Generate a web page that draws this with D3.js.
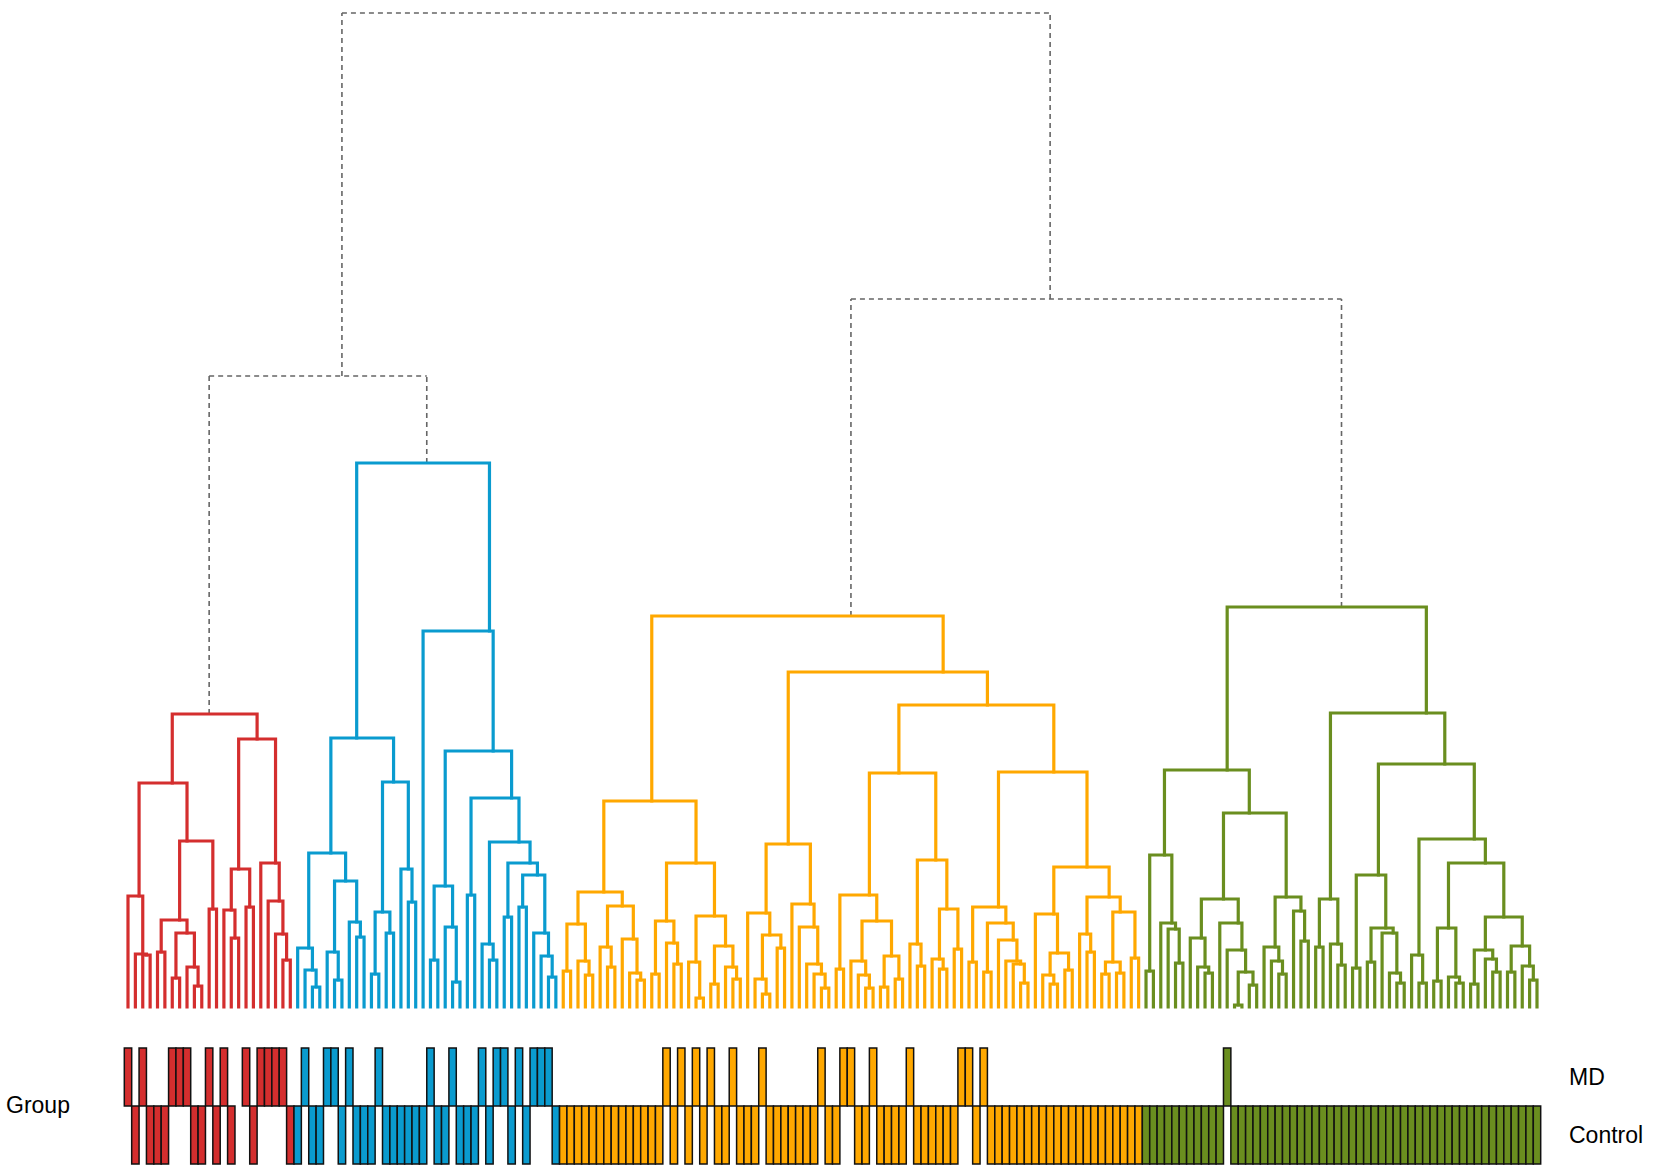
<!DOCTYPE html>
<meta charset="utf-8">
<style>
body { margin: 0; background: #fff; }
text { font-family: Arial, "Liberation Sans", sans-serif; }
</style>
<body>
<svg id="chart" width="1654" height="1174"></svg>
<script src="https://cdn.jsdelivr.net/npm/d3@7"></script>
<script>

// tree nodes: [mergeHeight, left, right], leaf = 0
var redTree = [293,
  [224,
    [111, 0, [53, 0, [52, 0, 0]]],
    [166, [87, [55, 0, 0], [74, [29, 0, 0], [40, 0, [21, 0, 0]]]], [98, 0, 0]]],
  [268,
    [138, [97, 0, [69, 0, 0]], [100, 0, 0]],
    [144, 0, [106, 0, [73, 0, [47, 0, 0]]]]]];

var blueTree = [544,
  [269,
    [154, [59, 0, [37, 0, [20, 0, 0]]], [126, [55, 0, [27, 0, 0]], [85, 0, [70, 0, 0]]]],
    [225, [95, [33, 0, 0], [74, 0, 0]], [138, 0, [105, 0, 0]]]],
  [376, 0,
    [256,
      [121, [47, 0, 0], [80, 0, [25, 0, 0]]],
      [209, [112, 0, 0],
        [165, [63, 0, [47, 0, 0]],
          [144, [90, 0, 0], [132, [100, 0, 0], [74, 0, [51, 0, [30, 0, 0]]]]]]]]]];

var orangeTree = [391,
  [206,
    [115,
      [83, [36, 0, 0], [46, 0, [32, 0, 0]]],
      [101, [60, 0, [40, 0, 0]], [68, 0, [34, 0, [27, 0, 0]]]]],
    [144,
      [86, [33, 0, 0], [64, 0, [43, 0, 0]]],
      [91, [45, 0, [9, 0, 0]], [61, [23, 0, 0], [40, 0, [28, 0, 0]]]]]],
  [335,
    [163,
      [94, 0, [72, [28, 0, [13, 0, 0]], [59, 0, 0]]],
      [103, 0, [80, 0, [43, 0, [33, 0, [19, 0, 0]]]]]],
    [302,
      [234,
        [112, [38, 0, 0], [86, [46, 0, [32, 0, [19, 0, 0]]], [51, [20, 0, 0], [28, 0, 0]]]],
        [147, [63, 0, [41, 0, 0]], [98, [48, 0, [38, 0, 0]], [58, 0, 0]]]],
      [235,
        [100, [45, 0, 0], [84, [35, 0, 0], [67, 0, [46, 0, [43, 0, [24, 0, 0]]]]]],
        [140,
          [93, 0, [54, [32, 0, [23, 0, 0]], [37, 0, 0]]],
          [110, [73, 0, [55, 0, 0]], [95, [45, [33, 0, 0], [34, 0, 0]], [49, 0, 0]]]]]]]];

var greenTree = [400,
  [237,
    [152, [36, 0, 0], [84, 0, [78, 0, [44, 0, 0]]]],
    [194,
      [108, [69, 0, [40, 0, [34, 0, 0]]], [84, 0, [57, 0, [35, [2, 0, 0], [22, 0, 0]]]]],
      [110, [60, 0, [46, 0, [33, 0, 0]]], [96, 0, [66, 0, 0]]]]],
  [294,
    [108, [60, 0, 0], [63, 0, [42, 0, 0]]],
    [243,
      [132, [39, 0, 0], [79, [45, 0, 0], [74, 0, [34, 0, [24, 0, 0]]]]],
      [168,
        [52, 0, [24, 0, 0]],
        [144,
          [79, [26, 0, 0], [30, 0, [24, 0, 0]]],
          [90, [57, [23, 0, 0], [48, 0, [35, 0, 0]]], [61, [35, 0, 0], [41, 0, [27, 0, 0]]]]]]]]];

var upperHeights = [994, 631, 708];   // root, red+blue, orange+green

var clusterNames = ["red", "blue", "orange", "green"];
var clusterColors = ["#D42E2E", "#0A9BCF", "#FFA800", "#6A8E1F"];

// leaf positions (within each cluster) belonging to MD; others Control
var mdRed = [0, 2, 6, 7, 8, 11, 13, 16, 18, 19, 20, 21];
var noneRed = [15];
var mdBlue = [1, 4, 5, 7, 11, 18, 21, 25, 27, 28, 30, 32, 33, 34];
var mdOrange = [14, 16, 18, 20, 23, 27, 35, 38, 39, 42, 47, 54, 55, 57];
var mdGreen = [11];

var groupLevels = ["MD", "Control"];

var treeData = [upperHeights[0],
  [upperHeights[1], redTree, blueTree],
  [upperHeights[2], orangeTree, greenTree]];

var svg = d3.select("#chart");

var root = d3.hierarchy(treeData, function(d) { return Array.isArray(d) ? d.slice(1) : null; });
var leaves = root.leaves();

var x = d3.scaleLinear().domain([0, leaves.length - 1]).range([128, 1537]);
var y = d3.scaleLinear().domain([0, upperHeights[0]]).range([1007, 13]);
var step = x(1) - x(0);

leaves.forEach(function(l, i) { l.xi = x(i); });
// node sits at the centre of its leaf span
root.eachAfter(function(n) {
  n.h = Array.isArray(n.data) ? n.data[0] : 0;
  if (n.children) {
    var lx = n.leaves().map(function(l) { return l.xi; });
    n.xi = (d3.min(lx) + d3.max(lx)) / 2;
  }
});

// cluster of each node = ancestor at depth 2
root.each(function(n) {
  if (n.depth >= 2) {
    var a = n;
    while (a.depth > 2) a = a.parent;
    n.cluster = a.parent.children.indexOf(a) + (a.parent.parent.children.indexOf(a.parent)) * 2;
  }
});

var mdSets = [mdRed, mdBlue, mdOrange, mdGreen];
var noneSets = [noneRed, [], [], []];
var leafGroups = [];
clusterNames.forEach(function(name, ci) {
  var cl = leaves.filter(function(l) { return l.cluster === ci; });
  cl.forEach(function(l, k) {
    var g = mdSets[ci].indexOf(k) >= 0 ? "MD" : (noneSets[ci].indexOf(k) >= 0 ? null : "Control");
    leafGroups.push({x: l.xi, cluster: ci, group: g});
  });
});

var links = svg.append("g").attr("fill", "none");

root.descendants().filter(function(n) { return n.children; }).forEach(function(n) {
  var dashed = n.depth < 2;
  var col = dashed ? "#666" : clusterColors[n.cluster];
  var xs = n.children.map(function(c) { return c.xi; });
  var path = d3.path();
  n.children.forEach(function(c) {
    path.moveTo(c.xi, y(c.h));
    path.lineTo(c.xi, y(n.h));
  });
  path.moveTo(d3.min(xs), y(n.h));
  path.lineTo(d3.max(xs), y(n.h));
  links.append("path")
    .attr("d", path.toString())
    .attr("stroke", col)
    .attr("stroke-width", dashed ? 1.6 : 3.2)
    .attr("stroke-dasharray", dashed ? "5,4" : null)
    .attr("stroke-linecap", dashed ? "butt" : "square");
});

// group bars
var rowY = d3.scaleBand().domain(groupLevels).range([1048, 1164]);

svg.append("g").selectAll("rect")
  .data(leafGroups.filter(function(d) { return d.group; }))
  .join("rect")
    .attr("x", function(d) { return d.x - step / 2; })
    .attr("y", function(d) { return rowY(d.group); })
    .attr("width", step)
    .attr("height", rowY.bandwidth())
    .attr("fill", function(d) { return clusterColors[d.cluster]; })
    .attr("stroke", "#111")
    .attr("stroke-width", 1.5);

svg.append("text").attr("x", 6).attr("y", 1113).attr("font-size", 23).text("Group");
groupLevels.forEach(function(g) {
  svg.append("text")
    .attr("x", 1569)
    .attr("y", rowY(g) + rowY.bandwidth() / 2 + 8)
    .attr("font-size", 23)
    .text(g);
});

</script>
</body>
